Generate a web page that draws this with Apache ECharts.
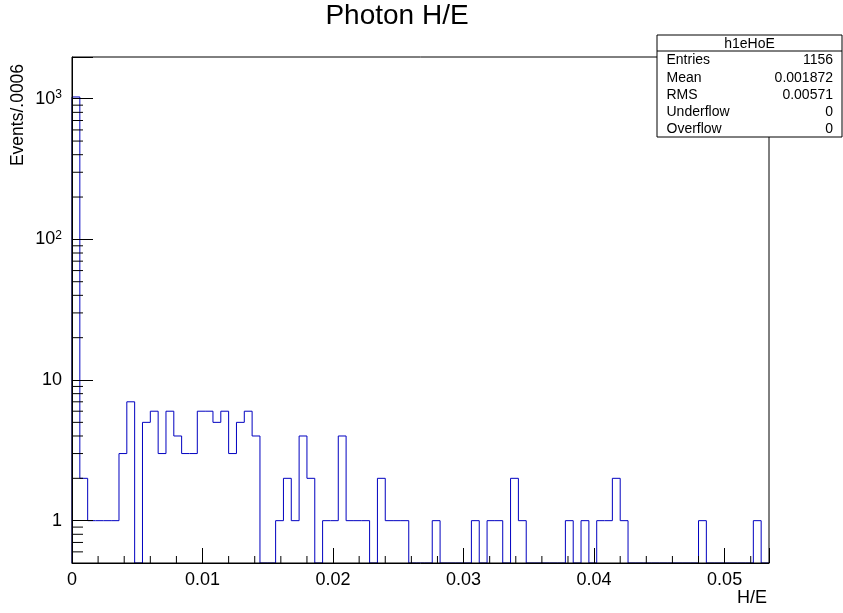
<!DOCTYPE html>
<html>
<head>
<meta charset="utf-8">
<script src="https://cdn.jsdelivr.net/npm/echarts@6/dist/echarts.min.js"></script>
<style>
html,body{margin:0;padding:0;background:#fff;}
#chart{width:843px;height:613px;}
</style>
</head>
<body>
<div id="chart"></div>
<script>
// ---- data ----
const binWidth = 0.0006;
const counts = [1029, 2, 1, 1, 1, 1, 3, 7, 0, 5, 6, 3, 6, 4, 3, 3, 6, 6, 5, 6,
  3, 5, 6, 4, 0, 0, 1, 2, 1, 4, 2, 0, 1, 1, 4, 1, 1, 1, 0, 2,
  1, 1, 1, 0, 0, 0, 1, 0, 0, 0, 0, 1, 0, 1, 1, 0, 2, 1, 0, 0,
  0, 0, 0, 1, 0, 1, 0, 1, 1, 2, 1, 0, 0, 0, 0, 0, 0, 0, 0, 0,
  1, 0, 0, 0, 0, 0, 0, 1, 0];
const xMin = 0, xMax = 0.0534;
const yMin = 0.5, yMax = 1980;
const xTickValues = [0, 0.01, 0.02, 0.03, 0.04, 0.05];
const xTickLabels = ['0', '0.01', '0.02', '0.03', '0.04', '0.05'];
const xMinorTicks = [0.002, 0.004, 0.006, 0.008, 0.012, 0.014, 0.016, 0.018,
  0.022, 0.024, 0.026, 0.028, 0.032, 0.034, 0.036, 0.038, 0.042, 0.044, 0.046, 0.048, 0.052];
const yTickValues = [1, 10, 100, 1000];
const yTickLabels = ['1', '10', '10{sup|2}', '10{sup|3}'];
const yMinorTicks = [0.6, 0.7, 0.8, 0.9, 2, 3, 4, 5, 6, 7, 8, 9,
  20, 30, 40, 50, 60, 70, 80, 90, 200, 300, 400, 500, 600, 700, 800, 900];
const titleText = 'Photon H/E';
const xTitle = 'H/E';
const yTitle = 'Events/.0006';
const statName = 'h1eHoE';
const statLabels = ['Entries', 'Mean', 'RMS', 'Underflow', 'Overflow'];
const statValues = ['1156', '0.001872', '0.00571', '0', '0'];

// ---- build ----
const FONT = '"Liberation Sans", Arial, Helvetica, sans-serif';
const pts = [[0, yMin]];
counts.forEach((c, i) => pts.push([i * binWidth, c > 0 ? c : yMin]));
pts.push([counts.length * binWidth, yMin]);

function tickLine(horizontal, len) {
  return function (params, api) {
    const p = api.coord([api.value(0), api.value(1)]);
    return {
      type: 'line',
      shape: horizontal ? {x1: p[0], y1: p[1], x2: p[0] + len, y2: p[1]}
                        : {x1: p[0], y1: p[1], x2: p[0], y2: p[1] - len},
      style: {stroke: '#000', lineWidth: 1}
    };
  };
}

const graphics = [
  {type: 'text', x: 397, y: 16, z: 10,
   style: {text: titleText, font: '28px ' + FONT, fill: '#000', align: 'center', verticalAlign: 'middle'}},
  {type: 'text', x: 767, y: 598, z: 10,
   style: {text: xTitle, font: '18px ' + FONT, fill: '#000', align: 'right', verticalAlign: 'middle'}},
  {type: 'text', x: 18.5, y: 115, rotation: Math.PI / 2, z: 10,
   style: {text: yTitle, font: '17.5px ' + FONT, fill: '#000', align: 'center', verticalAlign: 'middle'}},
  {type: 'rect', shape: {x: 657, y: 35, width: 185, height: 102}, z: 10,
   style: {fill: '#fff', stroke: '#000', lineWidth: 1}},
  {type: 'line', shape: {x1: 657, y1: 51, x2: 842, y2: 51}, z: 11,
   style: {stroke: '#000', lineWidth: 1}},
  {type: 'text', x: 749.5, y: 44, z: 11,
   style: {text: statName, font: '14px ' + FONT, fill: '#000', align: 'center', verticalAlign: 'middle'}}
];
statLabels.forEach((s, i) => {
  const y = 60.5 + i * 17.2;
  graphics.push({type: 'text', x: 666.5, y: y, z: 11,
    style: {text: s, font: '14px ' + FONT, fill: '#000', align: 'left', verticalAlign: 'middle'}});
  graphics.push({type: 'text', x: 833, y: y, z: 11,
    style: {text: statValues[i], font: '14px ' + FONT, fill: '#000', align: 'right', verticalAlign: 'middle'}});
});

const chart = echarts.init(document.getElementById('chart'), null, {renderer: 'canvas'});
chart.setOption({
  animation: false,
  backgroundColor: '#fff',
  textStyle: {fontFamily: FONT},
  grid: {left: 72, right: 74, top: 57, bottom: 50, show: true, borderColor: '#000', borderWidth: 1, z: 4, backgroundColor: 'transparent'},
  xAxis: {
    type: 'value', min: xMin, max: xMax, interval: 0.01, z: 4,
    axisLine: {show: true, onZero: false, lineStyle: {color: '#000', width: 1}},
    axisTick: {show: true, inside: true, length: 15, lineStyle: {color: '#000'}},
    splitLine: {show: false},
    axisLabel: {
      color: '#000', fontSize: 18, fontFamily: FONT, margin: 8, showMaxLabel: true,
      formatter: v => {
        const i = xTickValues.findIndex(t => Math.abs(t - v) < 1e-9);
        return i >= 0 ? xTickLabels[i] : '';
      }
    }
  },
  yAxis: {
    type: 'log', logBase: 10, min: yMin, max: yMax, z: 4,
    axisLine: {show: true, lineStyle: {color: '#000', width: 1}},
    axisTick: {show: true, inside: true, length: 21, lineStyle: {color: '#000'}},
    splitLine: {show: false},
    axisLabel: {
      color: '#000', fontSize: 18, fontFamily: FONT, margin: 10,
      formatter: v => {
        const i = yTickValues.findIndex(t => Math.abs(Math.log10(v) - Math.log10(t)) < 1e-6);
        return i >= 0 ? yTickLabels[i] : '';
      },
      rich: {sup: {fontSize: 12, fontFamily: FONT, color: '#000', verticalAlign: 'top', padding: [0, 0, 8, 0]}}
    }
  },
  series: [
    {
      type: 'line', data: pts, step: 'end', showSymbol: false, symbol: 'none',
      lineStyle: {color: '#0000c0', width: 1}, z: 2, silent: true, clip: true
    },
    {
      type: 'custom', data: xMinorTicks.map(v => [v, yMin]), renderItem: tickLine(false, 7), z: 5, silent: true
    },
    {
      type: 'custom', data: yMinorTicks.map(v => [xMin, v]), renderItem: tickLine(true, 11), z: 5, silent: true
    }
  ],
  graphic: graphics
});
</script>
</body>
</html>
